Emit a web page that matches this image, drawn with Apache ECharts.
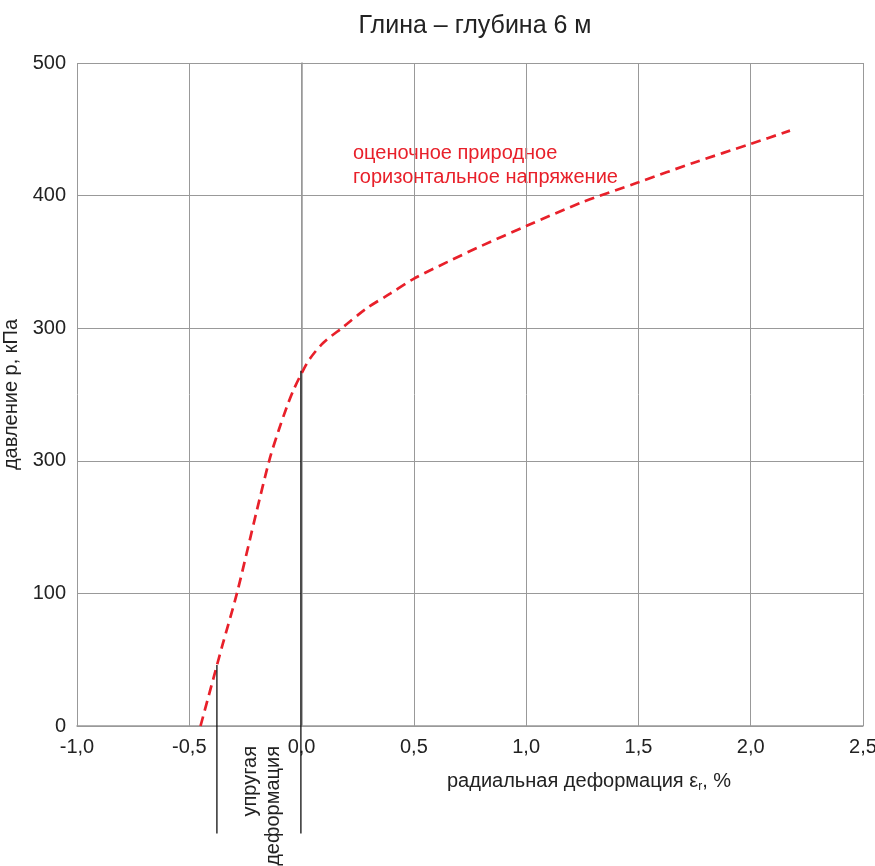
<!DOCTYPE html>
<html>
<head>
<meta charset="utf-8">
<script src="https://cdn.jsdelivr.net/npm/echarts@6/dist/echarts.min.js"></script>
<style>
html, body { margin: 0; padding: 0; background: #fff; }
#chart { width: 875px; height: 866px; }
</style>
</head>
<body>
<div id="chart"></div>
<script>
// кривая давления (деформация %, давление кПа)
var strain = [-0.450, -0.394, -0.354, -0.288, -0.200, -0.141, -0.100, -0.067, -0.037, 0.0, 0.037, 0.097, 0.186, 0.290, 0.394, 0.497, 0.65, 0.8, 1.0, 1.25, 1.5, 1.75, 2.0, 2.175];
var pressure = [0, 35, 60, 100, 162, 202, 224, 240, 253, 266, 277, 289, 301, 315, 326, 337, 350, 362, 377, 395, 410, 425, 439, 449];

// границы упругой деформации
var elasticX = [-0.377, -0.003];
var elasticTop = [46, 268];
var elasticBottom = -81;

// подписи делений оси Y (как на оригинале)
var yTickLabels = ['0', '100', '300', '300', '400', '500'];

var chart = echarts.init(document.getElementById('chart'));

var curve = [];
for (var i = 0; i < strain.length; i++) {
    curve.push([strain[i], pressure[i]]);
}
var bounds = [];
for (var j = 0; j < elasticX.length; j++) {
    bounds.push([elasticX[j], elasticTop[j]]);
    bounds.push([elasticX[j], elasticBottom]);
    bounds.push(null);
}

var font = 'Liberation Sans, Arial, sans-serif';

var option = {
    animation: false,
    title: {
        text: 'Глина – глубина 6 м',
        left: 470,
        textAlign: 'center',
        top: 9,
        textStyle: { fontFamily: font, fontSize: 25, fontWeight: 'normal', color: '#222' }
    },
    grid: { left: 77, right: 12, top: 63, bottom: 140, containLabel: false, outerBoundsMode: 'none' },
    xAxis: {
        type: 'value',
        min: -1,
        max: 2.5,
        interval: 0.5,
        axisLine: { show: true, lineStyle: { color: '#999', width: 1.5 } },
        axisTick: { show: false },
        splitLine: { show: true, lineStyle: { color: '#999', width: 1 } },
        axisLabel: {
            margin: 11,
            fontFamily: font, fontSize: 20, color: '#222',
            formatter: function (v) { return v.toFixed(1).replace('.', ','); }
        }
    },
    yAxis: {
        type: 'value',
        min: 0,
        max: 500,
        interval: 100,
        name: 'давление р, кПа',
        nameLocation: 'middle',
        nameGap: 49,
        nameTextStyle: { fontFamily: font, fontSize: 20, color: '#222' },
        axisLine: { show: true, lineStyle: { color: '#999', width: 1.5 } },
        axisTick: { show: false },
        splitLine: { show: true, lineStyle: { color: '#999', width: 1 } },
        axisLabel: {
            margin: 11,
            fontFamily: font, fontSize: 20, color: '#222',
            formatter: function (v) { return yTickLabels[Math.round(v / 100)]; }
        }
    },
    graphic: [
        {
            type: 'text',
            left: 353,
            top: 141,
            style: {
                text: 'оценочное природное\nгоризонтальное напряжение',
                fill: '#e8202a',
                font: '20px ' + font,
                lineHeight: 24
            }
        },
        {
            type: 'text',
            x: 589,
            y: 781,
            style: {
                text: '{a|радиальная деформация ε}{s|r}{a|, %}',
                align: 'center',
                verticalAlign: 'middle',
                rich: {
                    a: { font: '20px ' + font, fill: '#222' },
                    s: { font: '12px ' + font, fill: '#222', padding: [12, 0, 0, 0] }
                }
            }
        },
        {
            type: 'text',
            x: 262,
            y: 746,
            rotation: Math.PI / 2,
            style: {
                text: 'упругая\nдеформация',
                align: 'right',
                verticalAlign: 'middle',
                font: '20px ' + font,
                fill: '#222',
                lineHeight: 23
            }
        }
    ],
    series: [
        {
            type: 'line',
            data: curve,
            smooth: 0.3,
            symbol: 'none',
            lineStyle: { color: '#e8202a', width: 2.7, type: [10, 6] },
            z: 3
        },
        {
            type: 'line',
            data: bounds,
            clip: false,
            symbol: 'none',
            connectNulls: false,
            lineStyle: { color: '#111', width: 1.3 },
            z: 4
        }
    ]
};

chart.setOption(option);
</script>
</body>
</html>
